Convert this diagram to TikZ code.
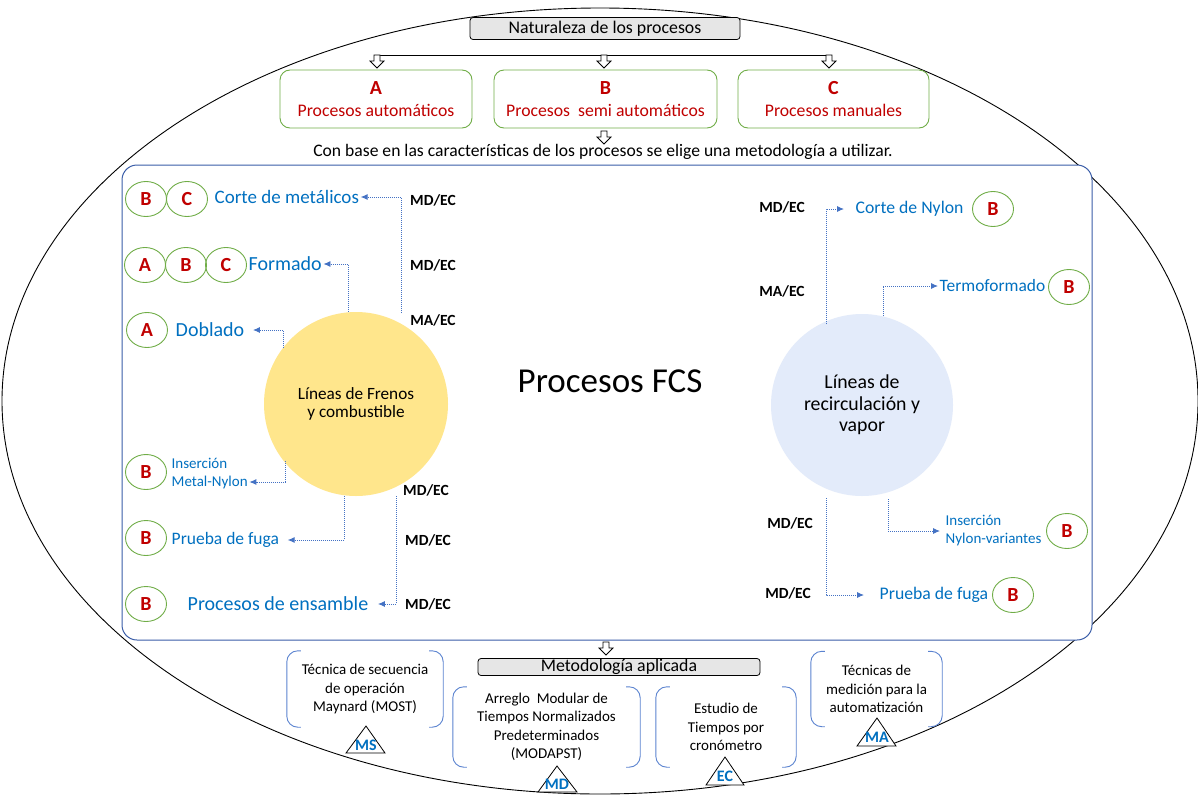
\documentclass[tikz,border=0pt]{standalone}
\usepackage{fontspec}
\setmainfont{Carlito}
\usetikzlibrary{arrows.meta,shapes.geometric,calc}

\definecolor{redA}{HTML}{C00000}
\definecolor{txtblue}{HTML}{0070C0}
\definecolor{boxgreen}{HTML}{70AD47}
\definecolor{frameblue}{HTML}{3A5DA8}
\definecolor{arrblue}{HTML}{4472C4}
\definecolor{sunyellow}{HTML}{FFE68C}
\definecolor{paleblue}{HTML}{E3EBFA}
\definecolor{lightgray}{HTML}{E6E6E6}
\definecolor{brkblue}{HTML}{5B83D0}

% font size with baselineskip = 1.2 x size
\newcommand{\fs}[1]{\fontsize{#1}{\dimexpr #1pt*6/5\relax}\selectfont}
% font size with explicit baselineskip
\newcommand{\fsb}[2]{\fontsize{#1}{#2}\selectfont}

\tikzset{
  titlebox/.style={draw=black, fill=lightgray, rounded corners=3pt, line width=0.8pt,
    minimum height=22pt, inner sep=0pt, font=\fs{17.8}},
  typebox/.style={draw=boxgreen, fill=white, rounded corners=10pt, line width=0.9pt,
    minimum width=192pt, minimum height=58pt, align=center, text=redA, inner sep=0pt},
  letter/.style={ellipse, draw=boxgreen, line width=0.9pt, minimum width=41pt,
    minimum height=35pt, inner sep=0pt, text=redA, font=\fs{20}\bfseries},
  lbl/.style={text=txtblue, font=\fs{17.7}, inner sep=1.5pt, anchor=west},
  lbls/.style={text=txtblue, font=\fsb{15}{19}, inner sep=1.5pt, anchor=west},
  code/.style={font=\fs{15.5}\bfseries},
  dotarrow/.style={draw=arrblue, line width=0.9pt, dash pattern=on 1pt off 1pt,
    -{Latex[length=7pt,width=6pt]}},
  hollow/.style={draw=black, fill=white, line width=0.8pt},
  method/.style={align=center, font=\fsb{15}{18.5}, inner sep=0pt},
  brk/.style={draw=brkblue, line width=0.9pt, rounded corners=11pt},
  tri/.style={draw=black, fill=white, line width=0.8pt},
  trilbl/.style={text=txtblue, font=\fs{16}\bfseries, inner sep=0pt},
}

% hollow block arrow pointing down, top centre at (#1,#2)
\newcommand{\downarrowat}[2]{%
  \draw[hollow] (#1-3,#2) -- (#1+3,#2) -- (#1+3,#2+6) -- (#1+7,#2+6) -- (#1,#2+13)
    -- (#1-7,#2+6) -- (#1-3,#2+6) -- cycle;}

% two rounded brackets around a text node
\newcommand{\brackets}[1]{%
  \draw[brk] ([xshift=14pt]#1.north west) -- (#1.north west) -- (#1.south west) -- ([xshift=14pt]#1.south west);
  \draw[brk] ([xshift=-14pt]#1.north east) -- (#1.north east) -- (#1.south east) -- ([xshift=-14pt]#1.south east);}

\begin{document}
\begin{tikzpicture}[x=1pt,y=-1pt]
\useasboundingbox (0,0) rectangle (1198,795);

% outer ellipse
\draw[line width=0.9pt] (600,401) ellipse [x radius=598, y radius=393];

% process nature
\node[titlebox, minimum width=270pt] (nat) at (605,28.5) {Naturaleza de los procesos};
\draw[line width=0.9pt] (377,55) -- (829,55);
\downarrowat{377}{55}
\downarrowat{604}{55}
\downarrowat{829}{55}

\node[typebox] (pa) at (376,99) {{\fs{20}\bfseries A}\\[9pt]{\fs{17.7}Procesos automáticos}};
\node[typebox, minimum width=223pt] (pb) at (605.5,99) {{\fs{20}\bfseries B}\\[9pt]{\fs{17.7}Procesos\ \ semi automáticos}};
\node[typebox, minimum width=191pt] (pc) at (833.5,99) {{\fs{20}\bfseries C}\\[9pt]{\fs{17.7}Procesos manuales}};

\downarrowat{604}{131}
\node[font=\fs{17.6}, inner sep=0pt] (base) at (603,152) {Con base en las características de los procesos se elige una metodología a utilizar.};

% FCS frame
\draw[draw=frameblue, fill=white, line width=1pt, rounded corners=15pt] (122,165) rectangle (1092,640);
\node[font=\fs{35}] (fcs) at (610,381) {Procesos FCS};

\node[circle, fill=sunyellow, minimum size=184pt, align=center, font=\fsb{17.2}{18.5}, inner sep=0pt] (fren) at (356,404) {Líneas de Frenos\\y combustible};
\node[circle, fill=paleblue, minimum size=182pt, align=center, font=\fsb{19.8}{21.5}, inner sep=0pt] (recir) at (862,405) {Líneas de\\recirculación y\\vapor};

% left branch: brake and fuel lines
\node[letter] (l1b) at (146,199) {B};
\node[letter] (l1c) at (187,199) {C};
\node[lbl, font=\fs{19}] (corte) at (213,197) {Corte de metálicos};
\node[letter] (l2a) at (145,265) {A};
\node[letter] (l2b) at (186,265) {B};
\node[letter] (l2c) at (226,265) {C};
\node[lbl, font=\fs{20}] (formado) at (247,264) {Formado};
\node[letter] (l3a) at (147,330) {A};
\node[lbl, font=\fs{20}] (doblado) at (174,330) {Doblado};
\node[letter] (l4b) at (146,472) {B};
\node[lbls] (ins1) at (170,463) {Inserción};
\node[lbls] (ins2) at (170,482) {Metal-Nylon};
\node[letter] (l5b) at (146,538) {B};
\node[lbl, font=\fs{17.5}] (fuga1) at (170,540) {Prueba de fuga};
\node[letter] (l6b) at (146,604) {B};
\node[lbl, font=\fs{20}] (ensam) at (186,604) {Procesos de ensamble};

\coordinate (s1) at (401,313);
\coordinate (s2) at (348,312);
\coordinate (s3) at (283,348);
\coordinate (s4) at (285,461);
\coordinate (s5) at (344,496);
\coordinate (s6) at (396,496);
\draw[dotarrow] (s1) |- (corte.east);
\draw[dotarrow] (s2) |- (formado.east);
\draw[dotarrow, shorten >=7pt] (s3) |- (doblado.east);
\draw[dotarrow] (s4) |- (ins2.east);
\draw[dotarrow, shorten >=7pt] (s5) |- (fuga1.east);
\draw[dotarrow, shorten >=8pt] (s6) |- (ensam.east);

\node[code] (m1) at (433,200) {MD/EC};
\node[code] (m2) at (433,265) {MD/EC};
\node[code] (m3) at (433,320) {MA/EC};
\node[code] (m4) at (426,490) {MD/EC};
\node[code] (m5) at (428,540) {MD/EC};
\node[code] (m6) at (428,604) {MD/EC};

% right branch: recirculation and vapour lines
\node[lbl] (cnylon) at (854,209) {Corte de Nylon};
\node[letter] (r1b) at (993,209) {B};
\node[lbl, font=\fs{17.4}] (termo) at (938,286) {Termoformado};
\node[letter] (r2b) at (1069,287) {B};
\node[lbls, align=left, font=\fsb{15}{18}] (insnv) at (944,531) {Inserción\\Nylon-variantes};
\node[letter] (r3b) at (1067,531) {B};
\node[lbl] (fuga2) at (878,595) {Prueba de fuga};
\node[letter] (r4b) at (1013,595) {B};

\coordinate (t1) at (826,324);
\coordinate (t2) at (883,316);
\coordinate (t3) at (888,499);
\coordinate (t4) at (826,498);
\draw[dotarrow, shorten >=10pt] (t1) |- (cnylon.west);
\draw[dotarrow] (t2) |- (termo.west);
\draw[dotarrow, shorten >=4pt] (t3) |- (insnv.west);
\draw[dotarrow, shorten >=14pt] (t4) |- (fuga2.west);

\node[code] (n1) at (782,207) {MD/EC};
\node[code] (n2) at (782,291) {MA/EC};
\node[code] (n3) at (790,523) {MD/EC};
\node[code] (n4) at (788,593) {MD/EC};

% applied methodology
\downarrowat{606}{642}
\node[titlebox, minimum width=282pt, minimum height=17pt] (meto) at (619,667) {Metodología aplicada};

\node[method, minimum width=156pt, minimum height=76pt] (most) at (365,689) {Técnica de secuencia\\de operación\\Maynard (MOST)};
\node[method, minimum width=187pt, minimum height=80pt] (modapst) at (546.5,727) {Arreglo\ \ Modular de\\Tiempos Normalizados\\Predeterminados\\(MODAPST)};
\node[method, minimum width=140pt, minimum height=80pt] (crono) at (726,727) {Estudio de\\Tiempos por\\cronómetro};
\node[method, minimum width=131pt, minimum height=75pt] (autom) at (876.5,689) {Técnicas de\\medición para la\\automatización};
\brackets{most}
\brackets{modapst}
\brackets{crono}
\brackets{autom}

\draw[tri] (366,726) -- (385,753) -- (346,753) -- cycle;
\node[trilbl] (ms) at (366,745) {MS};
\draw[tri] (557,766) -- (577,792) -- (538,792) -- cycle;
\node[trilbl] (md) at (557,784) {MD};
\draw[tri] (725,757) -- (744,785) -- (706,785) -- cycle;
\node[trilbl] (ec) at (725,776) {EC};
\draw[tri] (877,718) -- (896,746) -- (857,746) -- cycle;
\node[trilbl] (ma) at (877,737) {MA};

\end{tikzpicture}
\end{document}
